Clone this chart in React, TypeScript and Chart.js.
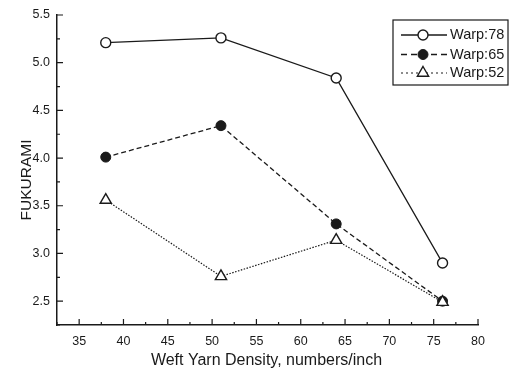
import React, { useEffect, useRef } from 'react';
import { Chart, registerables } from 'chart.js';
import { drawPoint } from 'chart.js/helpers';

Chart.register(...registerables);

// Weft yarn density (numbers/inch) and FUKURAMI values per warp density
const weftDensity = [38, 51, 64, 76];
const warp78 = [5.21, 5.26, 4.84, 2.9];
const warp65 = [4.01, 4.34, 3.31, 2.5];
const warp52 = [3.56, 2.76, 3.14, 2.49];
const seriesLabels = ['Warp:78', 'Warp:65', 'Warp:52'];

const xTicks = [35, 40, 45, 50, 55, 60, 65, 70, 75, 80];
const yTicks = [2.5, 3.0, 3.5, 4.0, 4.5, 5.0, 5.5];
const xTitle = 'Weft Yarn Density, numbers/inch';
const yTitle = 'FUKURAMI';

const INK = '#1a1a1a';
const FONT = '"Liberation Sans", Arial, Helvetica, sans-serif';

const toPoints = (ys: number[]) => ys.map((y, i) => ({ x: weftDensity[i], y }));

// Background, inward axis ticks, axis titles and a boxed legend
const decorPlugin = {
  id: 'decor',
  beforeDraw(chart: any) {
    const { ctx, width, height } = chart;
    ctx.save();
    ctx.fillStyle = '#fff';
    ctx.fillRect(0, 0, width, height);
    ctx.restore();
  },
  afterDraw(chart: any) {
    const { ctx, chartArea } = chart;
    const xs = chart.scales.x;
    const ys = chart.scales.y;
    ctx.save();
    ctx.strokeStyle = INK;
    ctx.lineWidth = 1.2;
    ctx.beginPath();
    // x axis: major ticks at labels, minor halfway between
    for (const v of xTicks) {
      const px = xs.getPixelForValue(v);
      ctx.moveTo(px, chartArea.bottom);
      ctx.lineTo(px, chartArea.bottom - 6);
      const m = v - 2.5;
      if (m >= xs.min) {
        const pm = xs.getPixelForValue(m);
        ctx.moveTo(pm, chartArea.bottom);
        ctx.lineTo(pm, chartArea.bottom - 3);
      }
    }
    // y axis: major ticks at labels, minor halfway between
    for (const v of yTicks) {
      const py = ys.getPixelForValue(v);
      ctx.moveTo(chartArea.left, py);
      ctx.lineTo(chartArea.left + 6, py);
      const m = v - 0.25;
      if (m >= ys.min) {
        const pm = ys.getPixelForValue(m);
        ctx.moveTo(chartArea.left, pm);
        ctx.lineTo(chartArea.left + 3, pm);
      }
    }
    ctx.stroke();

    // axis titles
    ctx.fillStyle = INK;
    ctx.textAlign = 'center';
    ctx.textBaseline = 'middle';
    ctx.font = `16px ${FONT}`;
    ctx.fillText(xTitle, (chartArea.left + chartArea.right) / 2 - 1, 361);
    ctx.save();
    ctx.translate(27, 180);
    ctx.rotate(-Math.PI / 2);
    ctx.font = `15.5px ${FONT}`;
    ctx.fillText(yTitle, 0, 0);
    ctx.restore();

    // legend
    const bx = 393, by = 20, bw = 115, bh = 65;
    ctx.fillStyle = '#fff';
    ctx.fillRect(bx, by, bw, bh);
    ctx.strokeStyle = INK;
    ctx.lineWidth = 1.2;
    ctx.strokeRect(bx, by, bw, bh);
    const rows = [35, 54.5, 73];
    chart.data.datasets.forEach((ds: any, i: number) => {
      const y = rows[i];
      ctx.save();
      ctx.strokeStyle = ds.borderColor;
      ctx.lineWidth = ds.borderWidth;
      ctx.setLineDash(ds.legendDash || ds.borderDash || []);
      ctx.beginPath();
      ctx.moveTo(401, y);
      ctx.lineTo(447, y);
      ctx.stroke();
      ctx.setLineDash([]);
      ctx.fillStyle = ds.pointBackgroundColor;
      ctx.strokeStyle = ds.pointBorderColor;
      ctx.lineWidth = ds.pointBorderWidth;
      drawPoint(ctx, { pointStyle: ds.pointStyle, radius: ds.pointRadius, rotation: 0, borderWidth: ds.pointBorderWidth }, 423, y);
      ctx.restore();
      ctx.fillStyle = INK;
      ctx.textAlign = 'left';
      ctx.textBaseline = 'middle';
      ctx.font = `14.5px ${FONT}`;
      ctx.fillText(ds.label, 450, y);
    });
    ctx.restore();
  },
};

export default function App() {
  const canvasRef = useRef<HTMLCanvasElement | null>(null);

  useEffect(() => {
    if (!canvasRef.current) return;
    const chart = new Chart(canvasRef.current, {
      type: 'line',
      data: {
        datasets: [
          {
            label: seriesLabels[0],
            data: toPoints(warp78),
            borderColor: INK,
            borderWidth: 1.4,
            pointStyle: 'circle',
            pointRadius: 5,
            pointBorderWidth: 1.4,
            pointBackgroundColor: '#fff',
            pointBorderColor: INK,
            order: 2,
          },
          {
            label: seriesLabels[1],
            data: toPoints(warp65),
            borderColor: INK,
            borderWidth: 1.3,
            borderDash: [5, 3],
            legendDash: [6, 4],
            pointStyle: 'circle',
            pointRadius: 5,
            pointBorderWidth: 1,
            pointBackgroundColor: INK,
            pointBorderColor: INK,
            order: 1,
          },
          {
            label: seriesLabels[2],
            data: toPoints(warp52),
            borderColor: INK,
            borderWidth: 1.2,
            borderDash: [1.5, 1.5],
            legendDash: [2, 3],
            pointStyle: 'triangle',
            pointRadius: 6.5,
            pointBorderWidth: 1.4,
            pointBackgroundColor: '#fff',
            pointBorderColor: INK,
            order: 0,
          },
        ] as any,
      },
      options: {
        animation: false,
        responsive: false,
        maintainAspectRatio: false,
        layout: { padding: { left: 0, top: 15, right: 33, bottom: 0 } },
        plugins: { legend: { display: false }, tooltip: { enabled: false } },
        elements: { line: { tension: 0 } },
        scales: {
          x: {
            type: 'linear',
            min: 32.5,
            max: 80,
            grid: { display: false, drawTicks: false },
            border: { display: true, color: INK, width: 1.5 },
            ticks: { color: INK, font: { family: FONT, size: 12.5 }, padding: 9, maxRotation: 0 },
            afterBuildTicks: (s: any) => {
              s.ticks = xTicks.map((v) => ({ value: v }));
            },
            afterFit: (s: any) => {
              s.height = 49;
            },
          },
          y: {
            type: 'linear',
            min: 2.25,
            max: 5.5,
            grid: { display: false, drawTicks: false },
            border: { display: true, color: INK, width: 1.5 },
            ticks: {
              color: INK,
              font: { family: FONT, size: 12.5 },
              padding: 7,
              callback: (v: any) => Number(v).toFixed(1),
            },
            afterBuildTicks: (s: any) => {
              s.ticks = yTicks.map((v) => ({ value: v }));
            },
            afterFit: (s: any) => {
              s.width = 57;
            },
          },
        },
      } as any,
      plugins: [decorPlugin],
    });
    return () => chart.destroy();
  }, []);

  return (
    <div style={{ position: 'fixed', left: 0, top: 0, width: 511, height: 374, background: '#fff' }}>
      <canvas ref={canvasRef} width={511} height={374} style={{ display: 'block', width: 511, height: 374 }} />
    </div>
  );
}
